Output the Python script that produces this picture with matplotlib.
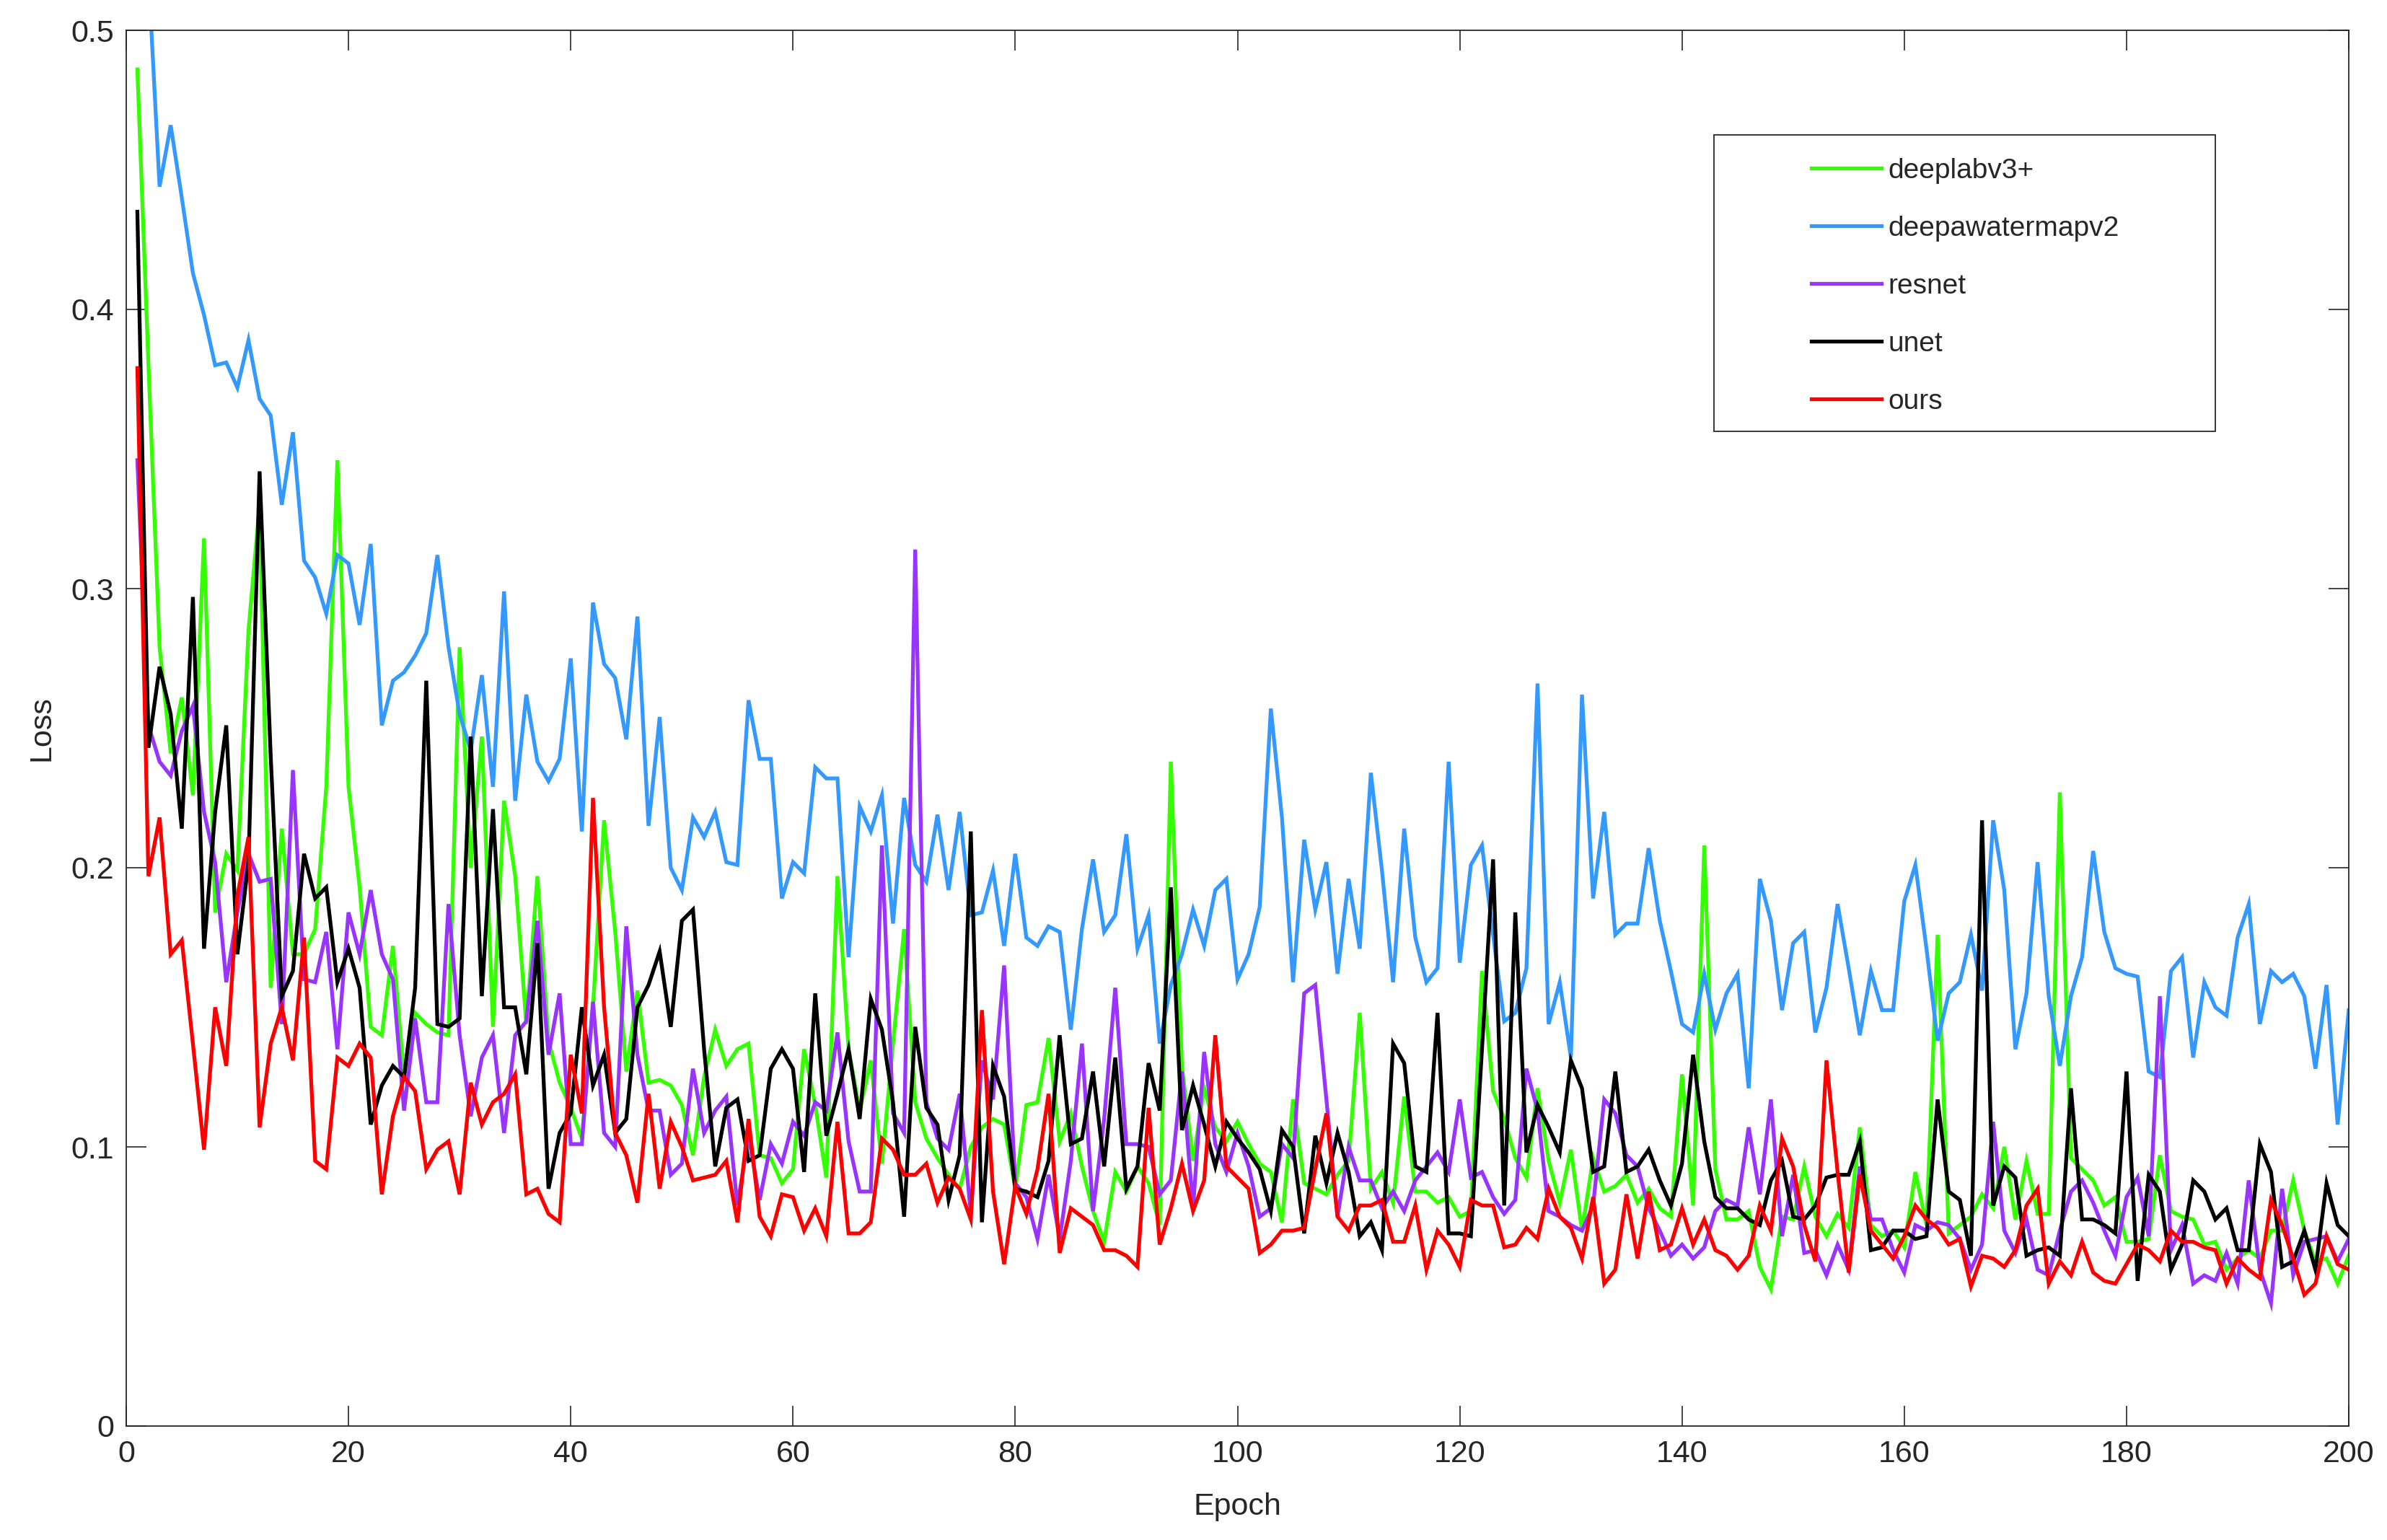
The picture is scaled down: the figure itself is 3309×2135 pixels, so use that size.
import matplotlib
matplotlib.use("Agg")
import matplotlib.pyplot as plt
from matplotlib.patches import Rectangle
import numpy as np

plt.rcParams['font.family'] = ['Liberation Sans', 'DejaVu Sans']

epochs = list(range(1, 201))

deeplabv3 = [
    0.486, 0.380, 0.279, 0.241, 0.261, 0.226, 0.318, 0.184, 0.205, 0.199,
    0.285, 0.330, 0.157, 0.214, 0.169, 0.169, 0.178, 0.229, 0.346, 0.229,
    0.193, 0.143, 0.140, 0.172, 0.125, 0.148, 0.144, 0.141, 0.140, 0.279,
    0.200, 0.247, 0.143, 0.224, 0.197, 0.144, 0.197, 0.138, 0.123, 0.114,
    0.103, 0.150, 0.217, 0.177, 0.127, 0.156, 0.123, 0.124, 0.122, 0.115,
    0.097, 0.125, 0.142, 0.129, 0.135, 0.137, 0.097, 0.096, 0.087, 0.092,
    0.135, 0.115, 0.089, 0.197, 0.135, 0.113, 0.131, 0.094, 0.137, 0.178,
    0.116, 0.103, 0.096, 0.090, 0.085, 0.100, 0.107, 0.110, 0.108, 0.085,
    0.115, 0.116, 0.139, 0.102, 0.112, 0.093, 0.077, 0.066, 0.091, 0.084,
    0.093, 0.087, 0.072, 0.238, 0.129, 0.095, 0.121, 0.107, 0.102, 0.109,
    0.101, 0.094, 0.091, 0.073, 0.117, 0.087, 0.085, 0.083, 0.090, 0.095,
    0.148, 0.085, 0.091, 0.080, 0.118, 0.084, 0.084, 0.080, 0.082, 0.075,
    0.077, 0.163, 0.120, 0.110, 0.096, 0.089, 0.121, 0.095, 0.080, 0.099,
    0.070, 0.096, 0.084, 0.086, 0.090, 0.080, 0.085, 0.078, 0.075, 0.126,
    0.079, 0.208, 0.092, 0.074, 0.074, 0.077, 0.057, 0.049, 0.075, 0.074,
    0.093, 0.075, 0.068, 0.076, 0.071, 0.107, 0.072, 0.068, 0.070, 0.064,
    0.091, 0.072, 0.176, 0.069, 0.072, 0.075, 0.083, 0.078, 0.100, 0.074,
    0.095, 0.076, 0.076, 0.227, 0.096, 0.092, 0.088, 0.079, 0.082, 0.066,
    0.066, 0.067, 0.097, 0.077, 0.075, 0.074, 0.065, 0.066, 0.056, 0.060,
    0.063, 0.060, 0.070, 0.070, 0.088, 0.070, 0.059, 0.060, 0.051, 0.061,
]

deepwatermap = [
    0.580, 0.520, 0.444, 0.466, 0.440, 0.413, 0.398, 0.380, 0.381, 0.372,
    0.389, 0.368, 0.362, 0.330, 0.356, 0.310, 0.304, 0.291, 0.312, 0.309,
    0.287, 0.316, 0.251, 0.267, 0.270, 0.276, 0.284, 0.312, 0.279, 0.255,
    0.242, 0.269, 0.229, 0.299, 0.224, 0.262, 0.238, 0.231, 0.239, 0.275,
    0.213, 0.295, 0.273, 0.268, 0.246, 0.290, 0.215, 0.254, 0.200, 0.192,
    0.218, 0.211, 0.220, 0.202, 0.201, 0.260, 0.239, 0.239, 0.189, 0.202,
    0.198, 0.236, 0.232, 0.232, 0.168, 0.222, 0.213, 0.226, 0.180, 0.225,
    0.201, 0.195, 0.219, 0.192, 0.220, 0.183, 0.184, 0.199, 0.172, 0.205,
    0.175, 0.172, 0.179, 0.177, 0.142, 0.178, 0.203, 0.177, 0.183, 0.212,
    0.171, 0.183, 0.137, 0.158, 0.169, 0.185, 0.172, 0.192, 0.196, 0.160,
    0.169, 0.186, 0.257, 0.218, 0.159, 0.210, 0.185, 0.202, 0.162, 0.196,
    0.171, 0.234, 0.199, 0.159, 0.214, 0.175, 0.159, 0.164, 0.238, 0.166,
    0.201, 0.208, 0.176, 0.145, 0.148, 0.164, 0.266, 0.144, 0.159, 0.132,
    0.262, 0.189, 0.220, 0.176, 0.180, 0.180, 0.207, 0.181, 0.163, 0.144,
    0.141, 0.162, 0.142, 0.155, 0.162, 0.121, 0.196, 0.181, 0.149, 0.173,
    0.177, 0.141, 0.157, 0.187, 0.164, 0.140, 0.163, 0.149, 0.149, 0.188,
    0.201, 0.171, 0.138, 0.155, 0.159, 0.176, 0.156, 0.217, 0.192, 0.135,
    0.155, 0.202, 0.154, 0.129, 0.154, 0.168, 0.206, 0.177, 0.164, 0.162,
    0.161, 0.127, 0.125, 0.163, 0.168, 0.132, 0.159, 0.150, 0.147, 0.175,
    0.187, 0.144, 0.163, 0.159, 0.162, 0.154, 0.128, 0.158, 0.108, 0.149,
]

resnet = [
    0.346, 0.251, 0.238, 0.233, 0.249, 0.258, 0.220, 0.202, 0.159, 0.184,
    0.205, 0.195, 0.196, 0.144, 0.235, 0.160, 0.159, 0.177, 0.135, 0.184,
    0.169, 0.192, 0.169, 0.160, 0.113, 0.146, 0.116, 0.116, 0.187, 0.140,
    0.111, 0.132, 0.140, 0.105, 0.140, 0.145, 0.181, 0.133, 0.155, 0.101,
    0.101, 0.152, 0.105, 0.100, 0.179, 0.133, 0.113, 0.113, 0.090, 0.094,
    0.128, 0.105, 0.113, 0.118, 0.079, 0.104, 0.081, 0.101, 0.094, 0.109,
    0.104, 0.116, 0.113, 0.141, 0.102, 0.084, 0.084, 0.208, 0.112, 0.105,
    0.314, 0.116, 0.103, 0.099, 0.119, 0.076, 0.131, 0.117, 0.165, 0.087,
    0.082, 0.067, 0.090, 0.067, 0.095, 0.137, 0.077, 0.110, 0.157, 0.101,
    0.101, 0.100, 0.083, 0.088, 0.127, 0.078, 0.134, 0.101, 0.091, 0.105,
    0.093, 0.075, 0.078, 0.101, 0.096, 0.155, 0.158, 0.117, 0.075, 0.100,
    0.088, 0.088, 0.078, 0.084, 0.077, 0.088, 0.093, 0.098, 0.091, 0.117,
    0.089, 0.091, 0.082, 0.076, 0.081, 0.128, 0.113, 0.077, 0.075, 0.072,
    0.070, 0.079, 0.117, 0.112, 0.097, 0.093, 0.078, 0.070, 0.061, 0.065,
    0.060, 0.064, 0.077, 0.081, 0.079, 0.107, 0.083, 0.117, 0.068, 0.090,
    0.062, 0.063, 0.054, 0.065, 0.056, 0.093, 0.074, 0.074, 0.063, 0.055,
    0.072, 0.070, 0.073, 0.072, 0.067, 0.056, 0.065, 0.109, 0.070, 0.062,
    0.074, 0.056, 0.054, 0.070, 0.084, 0.088, 0.080, 0.070, 0.061, 0.082,
    0.089, 0.068, 0.154, 0.063, 0.072, 0.051, 0.054, 0.052, 0.062, 0.051,
    0.088, 0.056, 0.044, 0.085, 0.054, 0.066, 0.067, 0.068, 0.059, 0.067,
]

unet = [
    0.435, 0.243, 0.272, 0.255, 0.214, 0.297, 0.171, 0.220, 0.251, 0.169,
    0.202, 0.342, 0.240, 0.154, 0.163, 0.205, 0.189, 0.193, 0.159, 0.171,
    0.157, 0.108, 0.122, 0.129, 0.125, 0.157, 0.267, 0.144, 0.143, 0.146,
    0.247, 0.154, 0.221, 0.150, 0.150, 0.126, 0.173, 0.085, 0.105, 0.112,
    0.150, 0.122, 0.133, 0.105, 0.110, 0.150, 0.158, 0.170, 0.143, 0.181,
    0.185, 0.135, 0.093, 0.114, 0.117, 0.095, 0.097, 0.128, 0.135, 0.128,
    0.091, 0.155, 0.104, 0.119, 0.135, 0.110, 0.153, 0.142, 0.116, 0.075,
    0.143, 0.114, 0.108, 0.081, 0.097, 0.213, 0.073, 0.129, 0.118, 0.085,
    0.084, 0.082, 0.095, 0.140, 0.101, 0.103, 0.127, 0.093, 0.132, 0.085,
    0.093, 0.130, 0.113, 0.193, 0.106, 0.122, 0.108, 0.093, 0.109, 0.103,
    0.098, 0.092, 0.077, 0.106, 0.100, 0.069, 0.104, 0.087, 0.105, 0.091,
    0.068, 0.073, 0.063, 0.137, 0.130, 0.093, 0.091, 0.148, 0.069, 0.069,
    0.068, 0.135, 0.203, 0.079, 0.184, 0.098, 0.115, 0.107, 0.098, 0.131,
    0.121, 0.091, 0.093, 0.127, 0.091, 0.093, 0.099, 0.088, 0.079, 0.094,
    0.133, 0.102, 0.082, 0.078, 0.078, 0.074, 0.072, 0.088, 0.095, 0.075,
    0.074, 0.079, 0.089, 0.090, 0.090, 0.102, 0.063, 0.064, 0.070, 0.070,
    0.067, 0.068, 0.117, 0.084, 0.081, 0.061, 0.217, 0.079, 0.093, 0.089,
    0.061, 0.063, 0.064, 0.061, 0.121, 0.074, 0.074, 0.072, 0.069, 0.127,
    0.052, 0.090, 0.084, 0.056, 0.065, 0.088, 0.084, 0.074, 0.078, 0.063,
    0.063, 0.101, 0.091, 0.057, 0.059, 0.070, 0.056, 0.087, 0.072, 0.068,
]

ours = [
    0.379, 0.197, 0.218, 0.169, 0.174, 0.137, 0.099, 0.150, 0.129, 0.190,
    0.211, 0.107, 0.137, 0.150, 0.131, 0.175, 0.095, 0.092, 0.132, 0.129,
    0.137, 0.132, 0.083, 0.111, 0.125, 0.120, 0.092, 0.099, 0.102, 0.083,
    0.123, 0.108, 0.116, 0.119, 0.126, 0.083, 0.085, 0.076, 0.073, 0.133,
    0.112, 0.225, 0.150, 0.105, 0.097, 0.080, 0.119, 0.085, 0.109, 0.100,
    0.088, 0.089, 0.090, 0.095, 0.073, 0.110, 0.075, 0.068, 0.083, 0.082,
    0.070, 0.078, 0.068, 0.109, 0.069, 0.069, 0.073, 0.103, 0.099, 0.090,
    0.090, 0.094, 0.080, 0.089, 0.085, 0.074, 0.149, 0.084, 0.058, 0.086,
    0.076, 0.092, 0.119, 0.062, 0.078, 0.075, 0.072, 0.063, 0.063, 0.061,
    0.057, 0.114, 0.065, 0.078, 0.094, 0.077, 0.088, 0.140, 0.093, 0.089,
    0.085, 0.062, 0.065, 0.070, 0.070, 0.071, 0.092, 0.112, 0.075, 0.070,
    0.079, 0.079, 0.081, 0.066, 0.066, 0.079, 0.056, 0.070, 0.065, 0.057,
    0.081, 0.079, 0.079, 0.064, 0.065, 0.071, 0.067, 0.085, 0.075, 0.071,
    0.060, 0.082, 0.051, 0.056, 0.083, 0.060, 0.084, 0.063, 0.065, 0.078,
    0.065, 0.074, 0.063, 0.061, 0.056, 0.061, 0.079, 0.070, 0.103, 0.093,
    0.072, 0.059, 0.131, 0.091, 0.055, 0.090, 0.070, 0.065, 0.060, 0.068,
    0.079, 0.074, 0.071, 0.065, 0.067, 0.050, 0.061, 0.060, 0.057, 0.063,
    0.079, 0.085, 0.051, 0.059, 0.054, 0.066, 0.055, 0.052, 0.051, 0.058,
    0.065, 0.063, 0.059, 0.070, 0.066, 0.066, 0.064, 0.063, 0.051, 0.060,
    0.056, 0.053, 0.081, 0.072, 0.060, 0.047, 0.051, 0.068, 0.058, 0.056,
]

series_names = ['deeplabv3+', 'deepawatermapv2', 'resnet', 'unet', 'ours']
xticks = [0, 20, 40, 60, 80, 100, 120, 140, 160, 180, 200]
yticks = [0, 0.1, 0.2, 0.3, 0.4, 0.5]
ytick_labels = ['0', '0.1', '0.2', '0.3', '0.4', '0.5']

W, H = 3309, 2135
fig = plt.figure(figsize=(W / 100, H / 100), dpi=100)
fig.patch.set_facecolor('white')

ax_l, ax_r, ax_t, ax_b = 175, 3256, 42, 1977
ax = fig.add_axes([ax_l / W, 1 - ax_b / H, (ax_r - ax_l) / W, (ax_b - ax_t) / H])

colors = ['#33ff00', '#3399ff', '#9933ff', '#000000', '#ff0000']
data = [deeplabv3, deepwatermap, resnet, unet, ours]
handles = []
for name, vals, c in zip(series_names, data, colors):
    h, = ax.plot(epochs, vals, color=c, lw=3.8, label=name, solid_joinstyle='miter')
    handles.append(h)

ax.set_xlim(0, 200)
ax.set_ylim(0, 0.5)
ax.set_xticks(xticks)
ax.set_xticklabels([str(t) for t in xticks])
ax.set_yticks(yticks)
ax.set_yticklabels(ytick_labels)

axc = '#262626'
for s in ax.spines.values():
    s.set_linewidth(1.3)
    s.set_color(axc)
ax.tick_params(axis='both', which='major', direction='in', length=20, width=1.2,
               colors=axc, labelsize=31, top=True, right=True)
ax.tick_params(axis='x', pad=14)
ax.tick_params(axis='y', pad=12)

fig.text(57 / W, 1 - 1009.5 / H, 'Loss', rotation=90, ha='center', va='center',
         fontsize=31, color=axc)
fig.text(1715.5 / W, 1 - 2089 / H, 'Epoch', ha='center', va='center',
         fontsize=31, color=axc)

# legend box
bx0, bx1, by0, by1 = 2376, 3071, 187, 598
fig.add_artist(Rectangle((bx0 / W, 1 - by1 / H), (bx1 - bx0) / W, (by1 - by0) / H,
                         transform=fig.transFigure, facecolor='white',
                         edgecolor=axc, lw=1.3, zorder=2))
leg = fig.legend(handles=handles, labels=series_names, loc='upper left',
                 bbox_to_anchor=(2511 / W, 1 - 219 / H), bbox_transform=fig.transFigure,
                 frameon=False, borderpad=0, borderaxespad=0, fontsize=28,
                 handlelength=2.5, handletextpad=0.24, labelspacing=1.13)
leg.set_zorder(5)
for t in leg.get_texts():
    t.set_color(axc)

fig.savefig('out.png', dpi=100)
